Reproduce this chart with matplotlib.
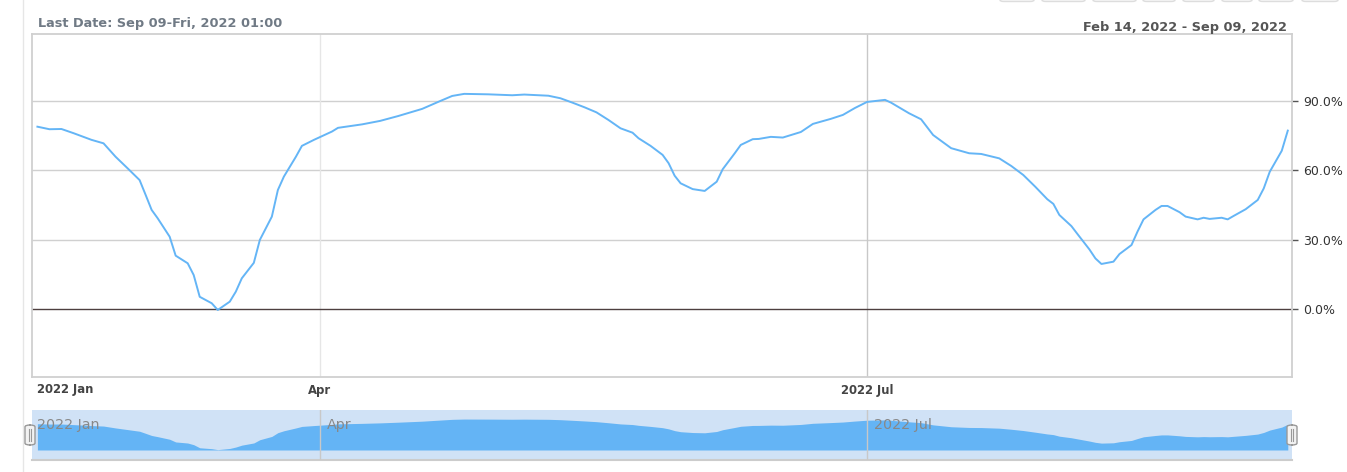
import datetime as dt
import matplotlib
matplotlib.use("Agg")
import matplotlib.pyplot as plt
import matplotlib.dates as mdates
from matplotlib.patches import FancyBboxPatch
from matplotlib.ticker import FuncFormatter

# values (percent)
dates = ["2022-02-13", "2022-02-15", "2022-02-17", "2022-02-19", "2022-02-22", "2022-02-24",
         "2022-02-26", "2022-02-28", "2022-03-02", "2022-03-03", "2022-03-04", "2022-03-05",
         "2022-03-07", "2022-03-08", "2022-03-10", "2022-03-11", "2022-03-12", "2022-03-14",
         "2022-03-15", "2022-03-17", "2022-03-18", "2022-03-19", "2022-03-21", "2022-03-22",
         "2022-03-24", "2022-03-25", "2022-03-26", "2022-03-28", "2022-03-29", "2022-03-31",
         "2022-04-03", "2022-04-04", "2022-04-08", "2022-04-11", "2022-04-14", "2022-04-18",
         "2022-04-21", "2022-04-23", "2022-04-25", "2022-04-29", "2022-05-03", "2022-05-05",
         "2022-05-09", "2022-05-11", "2022-05-13", "2022-05-15", "2022-05-17", "2022-05-19",
         "2022-05-21", "2022-05-23", "2022-05-24", "2022-05-26", "2022-05-28", "2022-05-29",
         "2022-05-30", "2022-05-31", "2022-06-02", "2022-06-04", "2022-06-06", "2022-06-07",
         "2022-06-09", "2022-06-10", "2022-06-12", "2022-06-13", "2022-06-15", "2022-06-17",
         "2022-06-20", "2022-06-22", "2022-06-25", "2022-06-27", "2022-06-29", "2022-07-01",
         "2022-07-04", "2022-07-05", "2022-07-08", "2022-07-10", "2022-07-12", "2022-07-15",
         "2022-07-18", "2022-07-20", "2022-07-23", "2022-07-25", "2022-07-27", "2022-07-29",
         "2022-07-31", "2022-08-01", "2022-08-02", "2022-08-04", "2022-08-05", "2022-08-07",
         "2022-08-08", "2022-08-09", "2022-08-11", "2022-08-12", "2022-08-14", "2022-08-15",
         "2022-08-16", "2022-08-18", "2022-08-19", "2022-08-20", "2022-08-22", "2022-08-23",
         "2022-08-25", "2022-08-26", "2022-08-27", "2022-08-29", "2022-08-30", "2022-08-31",
         "2022-09-02", "2022-09-04", "2022-09-05", "2022-09-06", "2022-09-08", "2022-09-09"]
values = [78.9, 77.8, 77.9, 76.1, 73.2, 71.7,
          65.9, 60.9, 55.8, 49.4, 42.9, 39.3,
          31.3, 23.1, 19.8, 14.7, 5.3, 2.5,
          -0.4, 3.2, 7.5, 13.3, 20.0, 29.9,
          40.0, 51.5, 57.3, 65.9, 70.6, 73.2,
          76.8, 78.4, 79.9, 81.4, 83.5, 86.6,
          90.0, 92.2, 93.1, 92.9, 92.5, 92.8,
          92.3, 91.2, 89.3, 87.3, 85.1, 81.8,
          78.2, 76.3, 73.9, 70.6, 66.7, 63.1,
          57.7, 54.4, 51.9, 51.1, 55.1, 60.5,
          67.4, 71.0, 73.5, 73.6, 74.5, 74.2,
          76.6, 80.1, 82.3, 84.0, 87.0, 89.6,
          90.5, 89.3, 84.7, 82.1, 75.3, 69.6,
          67.4, 67.1, 65.2, 61.9, 58.0, 52.9,
          47.5, 45.5, 40.7, 35.9, 32.5, 25.8,
          21.9, 19.5, 20.5, 23.8, 27.7, 33.5,
          38.8, 42.9, 44.6, 44.6, 41.9, 40.0,
          38.8, 39.5, 39.0, 39.5, 38.8, 40.3,
          43.2, 47.2, 52.2, 59.4, 68.5, 77.2]
y_ticks = [0, 30, 60, 90]
x_ticks = ["2022-04-01", "2022-07-01"]
x_tick_labels = ["Apr", "2022 Jul"]

x = [dt.datetime.strptime(d, "%Y-%m-%d") for d in dates]
line_color = "#64b5f6"

W, H = 1347, 472
fig = plt.figure(figsize=(W / 100, H / 100), dpi=100)

def box(x0, y0, x1, y1):
    return [x0 / W, 1 - y1 / H, (x1 - x0) / W, (y1 - y0) / H]

apr1 = mdates.date2num(dt.datetime(2022, 4, 1))
jul1 = mdates.date2num(dt.datetime(2022, 7, 1))
xlim = (apr1 - 47.9, jul1 + 70.7)

# main chart
ax = fig.add_axes(box(32, 34, 1292, 377))
ax.plot(x, values, color=line_color, lw=1.4, zorder=3)
ax.set_xlim(xlim)
ax.set_ylim(-29.4, 119.0)
for v in y_ticks[1:]:
    ax.axhline(v, color="#d0d0d0", lw=1, zorder=1)
ax.axhline(0, color="#4d3f3f", lw=1, zorder=2)
ax.axvline(apr1, color="#e6e6e6", lw=1, zorder=1)
ax.axvline(jul1, color="#c8c8c8", lw=1, zorder=1)

ax.yaxis.tick_right()
ax.set_yticks(y_ticks)
ax.yaxis.set_major_formatter(FuncFormatter(lambda v, p: f"{v:.1f}%"))
ax.tick_params(axis="y", length=4, width=1, color="#555555", pad=4,
               labelsize=9, labelcolor="#333333")
ax.set_xticks([mdates.date2num(dt.datetime.strptime(d, "%Y-%m-%d")) for d in x_ticks])
ax.set_xticklabels(x_tick_labels, fontweight="bold", fontsize=8.4, color="#444444")
ax.tick_params(axis="x", length=0, pad=5)
ax.text((37 - 32) / 1260, -13 / 343, "2022 Jan", transform=ax.transAxes,
        ha="left", va="center", fontsize=8.4, fontweight="bold", color="#444444")
for s in ax.spines.values():
    s.set_color("#d0d0d0")
    s.set_linewidth(1.3)

# navigator
nav = fig.add_axes(box(32, 410, 1292, 460))
nav.set_facecolor("#d0e2f6")
nav.fill_between(x, values, -1.5, color="#64b4f5", lw=0, zorder=2)
nav.set_xlim(xlim)
nav.set_ylim(-32.1, 120.8)
nav.axvline(apr1, color="#c8c8c8", lw=1, zorder=3)
nav.axvline(jul1, color="#c8c8c8", lw=1, zorder=3)
nav.set_xticks([])
nav.set_yticks([])
for s in nav.spines.values():
    s.set_visible(False)
nav.spines["bottom"].set_visible(True)
nav.spines["bottom"].set_color("#cccccc")
nav.spines["bottom"].set_linewidth(1.5)
for lbl, xv, off in [("2022 Jan", xlim[0], 5), ("Apr", apr1, 7), ("2022 Jul", jul1, 7)]:
    nav.annotate(lbl, (xv, 1), xycoords=("data", "axes fraction"),
                 xytext=(off * 0.72, -11), textcoords="offset points",
                 ha="left", va="center", fontsize=10.3, color="#888888", zorder=4)

# navigator handles
for hx in (25, 1287):
    fig.patches.append(FancyBboxPatch(((hx) / W, 1 - 445 / H), 10 / W, 20 / H,
                                      boxstyle="round,pad=0,rounding_size=0.004",
                                      transform=fig.transFigure, facecolor="#f2f2f2",
                                      edgecolor="#999999", lw=1, zorder=5))
    for lx in (hx + 4, hx + 6):
        fig.add_artist(plt.Line2D([lx / W, lx / W], [1 - 441 / H, 1 - 429 / H],
                                  color="#999999", lw=0.8, zorder=6))

# top button stubs and left rule
for x0, x1 in [(1000, 1034), (1042, 1085), (1093, 1136), (1143, 1175),
               (1183, 1214), (1222, 1252), (1259, 1293), (1302, 1338)]:
    fig.patches.append(FancyBboxPatch((x0 / W, 1 - 1.5 / H), (x1 - x0) / W, 10 / H,
                                      boxstyle="round,pad=0,rounding_size=0.003",
                                      transform=fig.transFigure, facecolor="#f7f7f7",
                                      edgecolor="#dddddd", lw=1))
fig.add_artist(plt.Line2D([22.5 / W, 22.5 / W], [0, 1], color="#e6e6e6", lw=1))

fig.text(38 / W, 1 - 23 / H, "Last Date: Sep 09-Fri, 2022 01:00", ha="left", va="center",
         fontsize=9.3, fontweight="bold", color="#707a85")
fig.text(1287 / W, 1 - 28 / H, "Feb 14, 2022 - Sep 09, 2022", ha="right", va="center",
         fontsize=9.3, fontweight="bold", color="#555555")

fig.savefig("out.png", dpi=100)
